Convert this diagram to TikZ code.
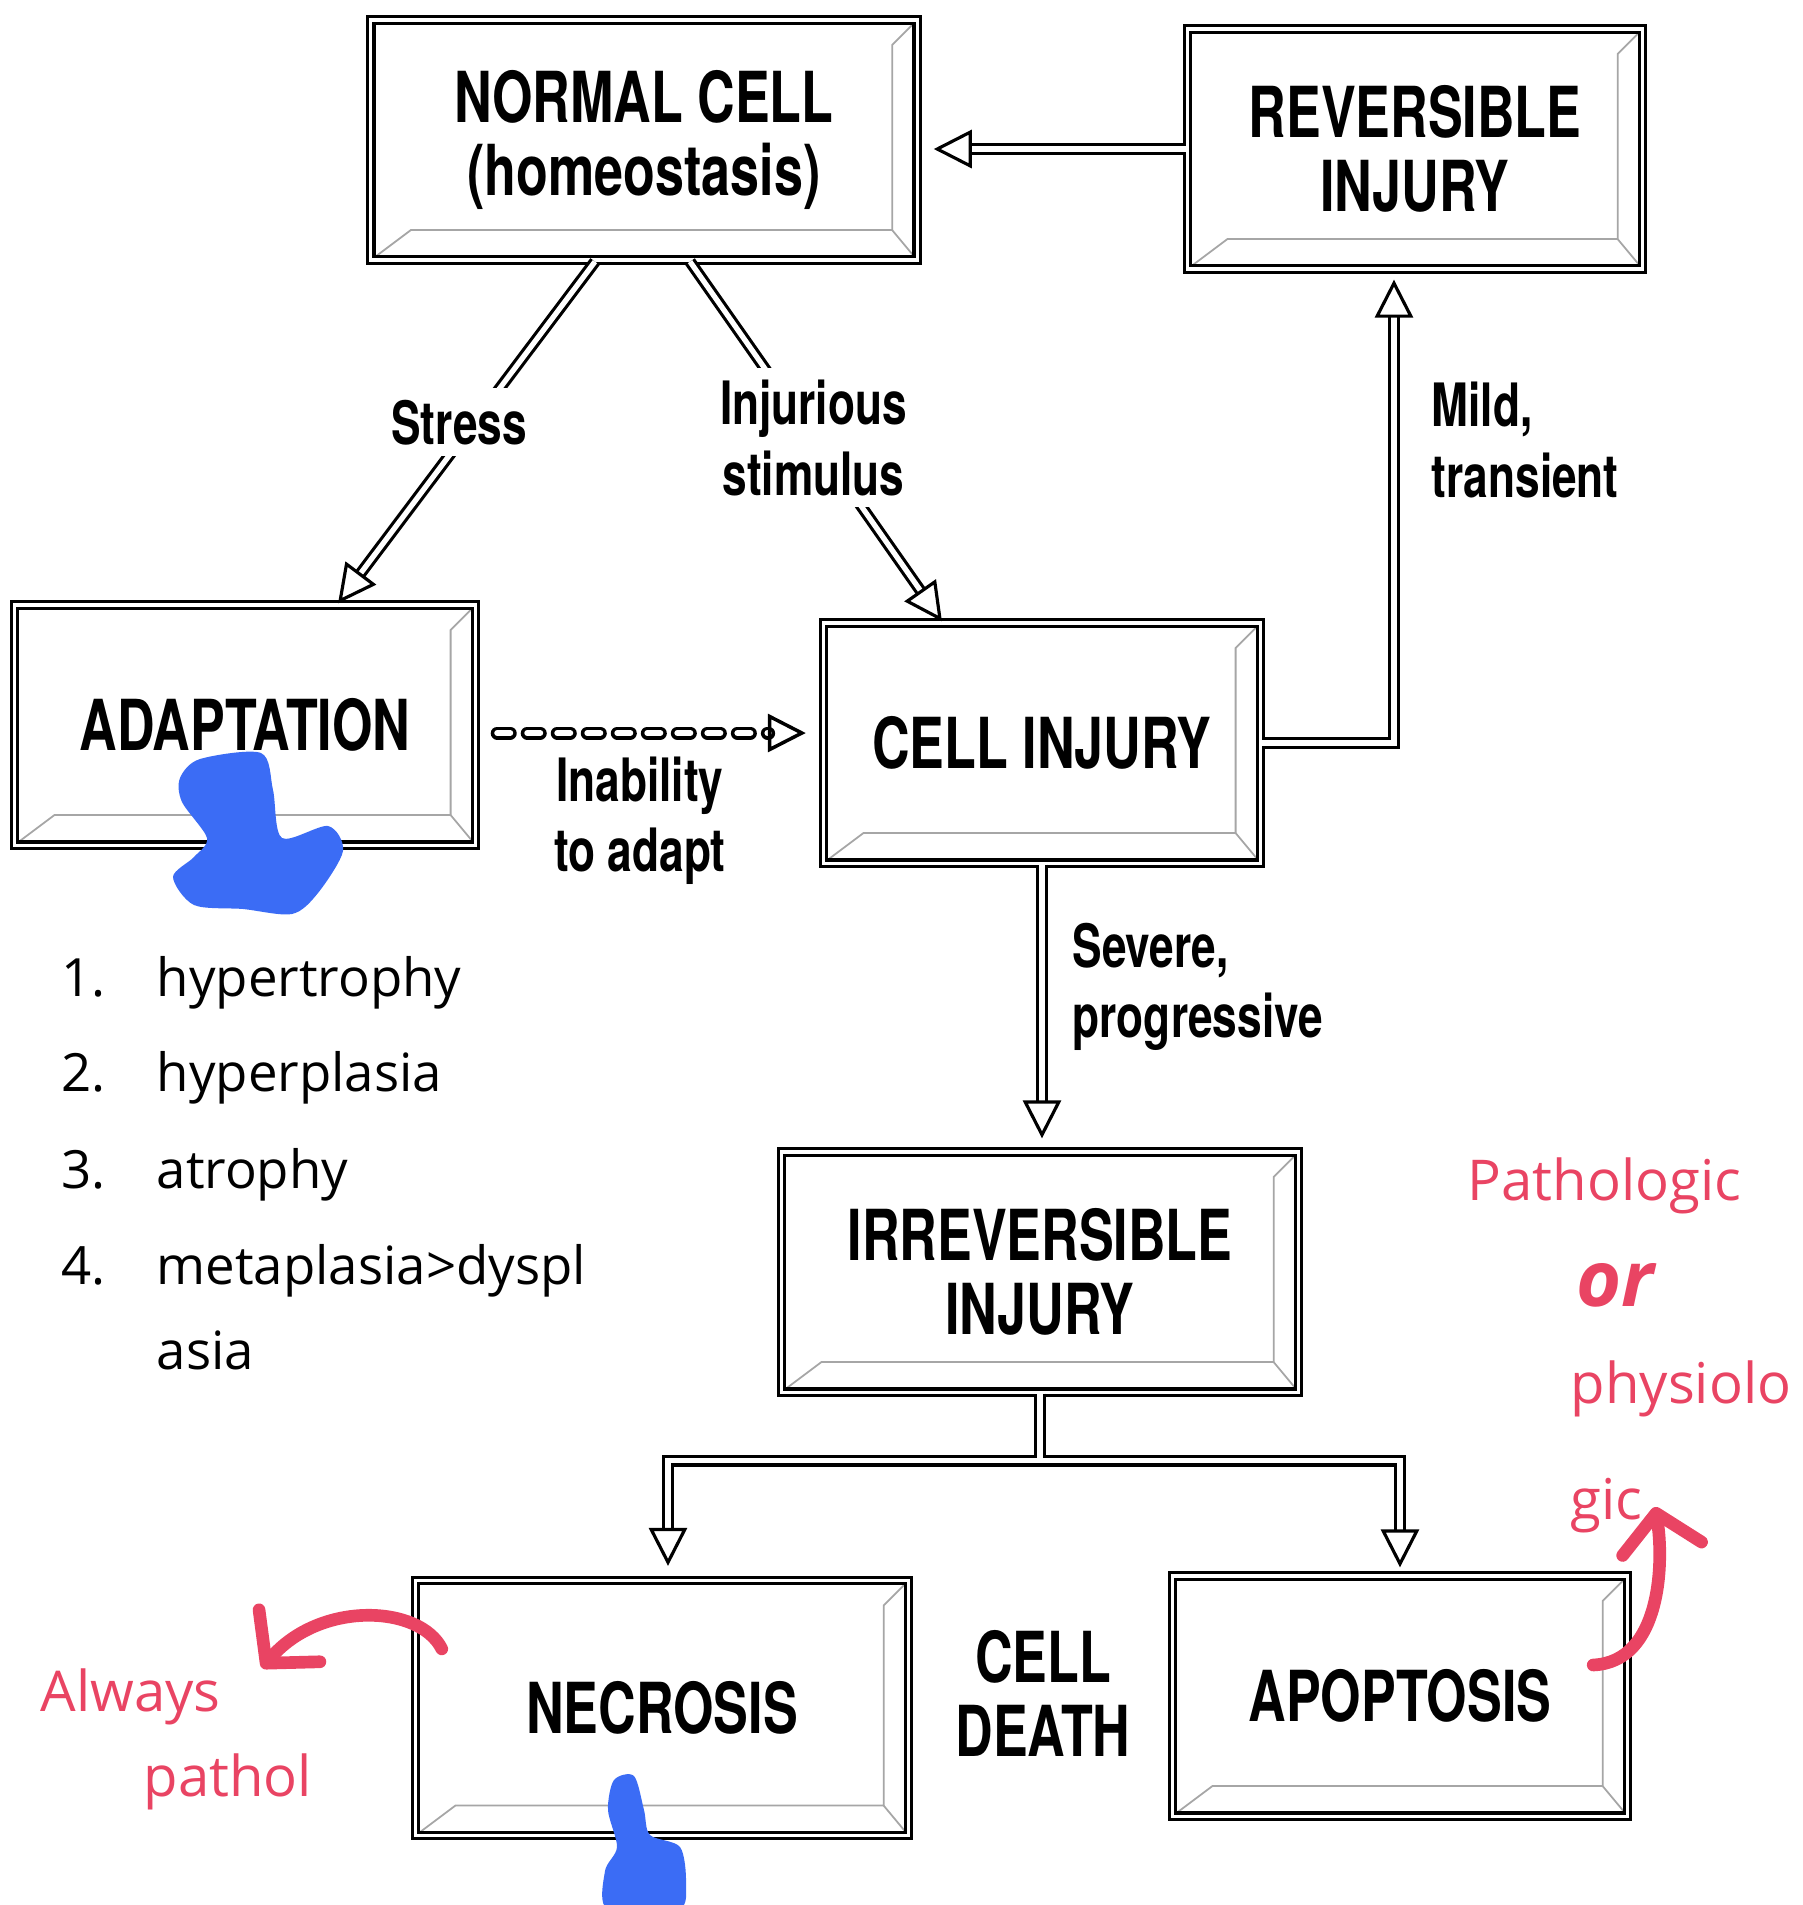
\documentclass[tikz,border=0pt]{standalone}
\usepackage{fontspec}
\usepackage{tikz}
\usetikzlibrary{arrows.meta}
\usetikzlibrary{shapes.geometric,calc}
\newfontfamily\diagfont{TeX Gyre Heros}[FakeStretch=0.74]
\newfontfamily\notefont{Open Sans}
\definecolor{penred}{HTML}{E94463}
\definecolor{penblue}{HTML}{3B6CF5}

\begin{document}
\begin{tikzpicture}[x=0.01cm, y=-0.01cm,
        cellbox/.style={draw, line width=0.9pt, double, double distance=0.9pt, fill=white,
            minimum width=#1, minimum height=2.4cm, align=center,
            font=\diagfont\bfseries\fontsize{20}{21}\selectfont,
            path picture={
                \draw[gray!70, line width=0.5pt]
                    (path picture bounding box.south west)
                    -- ([shift={(0.4cm,0.3cm)}]path picture bounding box.south west)
                    -- ([shift={(-0.25cm,0.3cm)}]path picture bounding box.south east)
                    -- ([shift={(-0.25cm,-0.25cm)}]path picture bounding box.north east)
                    -- (path picture bounding box.north east);
                \draw[gray!70, line width=0.5pt]
                    ([shift={(-0.25cm,0.3cm)}]path picture bounding box.south east)
                    -- (path picture bounding box.south east);
            }},
        conn/.style={line width=0.9pt, double, double distance=1.5pt,
            -{Triangle[open, length=0.38cm, width=0.38cm]}},
        lbl/.style={font=\diagfont\bfseries\fontsize{17}{20}\selectfont, align=center},
        note/.style={font=\notefont\fontsize{15}{18}\selectfont, anchor=base west, inner sep=0pt},
        pen/.style={font=\notefont\fontsize{16}{19}\selectfont, text=penred, anchor=base west, inner sep=0pt},
        penarrow/.style={penred, line width=3.6pt, line cap=round, line join=round,
            -{Straight Barb[length=0.36cm, width=0.8cm, line cap=round, line join=round]}}]

    \useasboundingbox (0,0) rectangle (1802,1905);

    \node[cellbox=5.46cm] (normal) at (644,140) {NORMAL CELL\\(homeostasis)};
    \node[cellbox=4.55cm] (rev) at (1415,149) {REVERSIBLE\\INJURY};
    \node[cellbox=4.61cm] (adapt) at (245,725) {ADAPTATION};
    \node[cellbox=4.37cm] (injury) at (1042,743) {CELL INJURY};
    \node[cellbox=5.17cm] (irrev) at (1040,1272) {IRREVERSIBLE\\INJURY};
    \node[cellbox=4.93cm, minimum height=2.55cm] (necro) at (662,1708) {NECROSIS};
    \node[cellbox=4.55cm] (apop) at (1400,1696) {APOPTOSIS};

    \draw[conn] ([xshift=-0.49cm]normal.south) -- node[lbl, fill=white, pos=0.47, xshift=-0.15cm] (stress) {Stress} ([xshift=0.93cm]adapt.north);
    \draw[conn] ([xshift=0.46cm]normal.south) -- node[lbl, fill=white, pos=0.49] (injlbl) {Injurious\\stimulus} ([xshift=-1.0cm]injury.north);
    \draw[conn, shorten >=0.15cm] (rev.west) -- (rev.west -| normal.east);
    \draw[conn, line width=1pt, double distance=1.7pt, dash pattern=on 0.13cm off 0.17cm, line cap=round, shorten <=0.2cm, shorten >=0.16cm]
        ([yshift=-0.08cm]adapt.east) -- ([yshift=-0.08cm]adapt.east -| injury.west);
    \draw[conn, shorten >=0.09cm] (injury.east) -| ([xshift=-0.21cm]rev.south);
    \draw[conn, shorten >=0.12cm] (injury.south) -- (injury.south |- irrev.north);

    \coordinate (split) at ($(irrev.south)+(0,-0.67cm)$);
    \draw[conn, {Triangle[open, length=0.38cm, width=0.38cm]}-{Triangle[open, length=0.38cm, width=0.38cm]},
        shorten <=0.13cm, shorten >=0.07cm]
        (irrev.south) -- (split) ([xshift=0.06cm]necro.north) |- (split) -| (apop.north);

    \node[lbl] (inab) at (640,821) {Inability\\to adapt};
    \node[lbl, align=left, anchor=west, inner sep=0pt] (mild) at (1431,440) {Mild,\\transient};
    \node[lbl, align=left, anchor=west, inner sep=0pt] (severe) at (1072,987) {Severe,\\progressive};
    \node[lbl, font=\diagfont\bfseries\fontsize{20}{21}\selectfont] (death) at (1043,1693) {CELL\\DEATH};

    \node[note] (n1) at (61,996) {1.};
    \node[note] (hyper) at (156,996) {hypertrophy};
    \node[note] (n2) at (61,1091) {2.};
    \node[note] (plasia) at (156,1091) {hyperplasia};
    \node[note] (n3) at (61,1188) {3.};
    \node[note] (atro) at (156,1188) {atrophy};
    \node[note] (n4) at (61,1284) {4.};
    \node[note] (meta) at (156,1284) {metaplasia>dyspl};
    \node[note] (meta2) at (156,1369) {asia};

    \node[pen] (patho) at (1467,1200) {Pathologic};
    \node[pen, font=\notefont\bfseries\itshape\fontsize{22}{24}\selectfont] (orword) at (1576,1306) {or};
    \node[pen] (physio) at (1570,1403) {physiolo};
    \node[pen] (gic) at (1570,1519) {gic};
    \node[pen] (always) at (40,1711) {Always};
    \node[pen] (pathol) at (143,1796) {pathol};

    \coordinate (alwaystip) at (262,1668);
    \coordinate (gictip) at (1655,1507);
    \draw[penarrow] ([shift={(0.28cm,-0.7cm)}]necro.north west) .. controls (420,1605) and (320,1600) .. (alwaystip);
    \draw[penarrow] ([shift={(-0.36cm,0.31cm)}]apop.east) .. controls (1662,1662) and (1664,1560) .. (gictip);

    \fill[penblue] plot[smooth cycle] coordinates {(200,759) (261,753) (273,790) (282,838) (328,826) (343,851) (318,893) (292,914) (243,909) (194,905) (173,877) (194,857) (207,838) (182,802) (180,778)};
    \fill[penblue] plot[smooth cycle] coordinates {(614,1780) (634,1776) (644,1810) (650,1835) (680,1847) (686,1883) (678,1910) (608,1910) (605,1871) (617,1847) (608,1810)};

\end{tikzpicture}
\end{document}
